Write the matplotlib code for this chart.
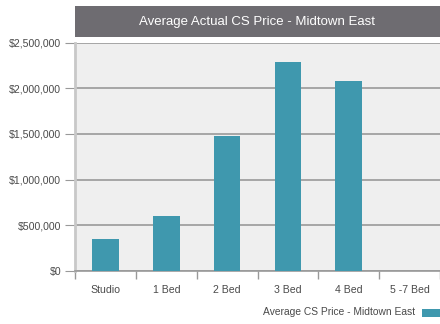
import matplotlib
matplotlib.use("Agg")
import matplotlib.pyplot as plt
from matplotlib.patches import Rectangle
from matplotlib.ticker import FuncFormatter

plt.rcParams['font.family'] = ['Liberation Sans', 'DejaVu Sans']

# Average closing price by unit type
categories = ["Studio", "1 Bed", "2 Bed", "3 Bed", "4 Bed", "5 -7 Bed"]
prices = [350000, 602000, 1477000, 2287000, 2079000, 0]
series_name = "Average CS Price - Midtown East"
title = "Average Actual CS Price - Midtown East"

bar_color = "#3f98ae"
grid_color = "#999999"
text_color = "#4a4a4a"

fig = plt.figure(figsize=(4.4, 3.24), dpi=100)
ax = fig.add_axes([0.1705, 0.1636, 0.8295, 0.7049])
ax.set_facecolor("#efefef")

x = range(len(categories))
ax.bar(x, prices, width=0.44, color=bar_color, zorder=3, label=series_name)

ax.set_xlim(-0.5, len(categories) - 0.5)
ax.set_ylim(0, 2500000)
ax.set_yticks(range(0, 2500001, 500000))
ax.yaxis.set_major_formatter(FuncFormatter(lambda v, p: f"${v:,.0f}"))
ax.set_xticks(list(x))
ax.set_xticklabels(categories)
ax.set_xticks([i - 0.5 for i in range(len(categories) + 1)], minor=True)

ax.grid(axis="y", color=grid_color, linewidth=1.2, zorder=1)
ax.tick_params(axis="y", length=7, color=grid_color, labelsize=7.6, labelcolor=text_color, pad=3)
ax.tick_params(axis="x", which="major", length=0, labelsize=7.6, labelcolor=text_color, pad=10)
ax.tick_params(axis="x", which="minor", length=6, color=grid_color, width=1)

for side in ["top", "right"]:
    ax.spines[side].set_visible(False)
ax.spines["left"].set_color("#c8c8c8")
ax.spines["left"].set_linewidth(2)
ax.spines["bottom"].set_color(grid_color)
ax.spines["bottom"].set_linewidth(1.2)

# title banner above the plot area
fig.patches.append(Rectangle((0.1705, 0.886), 0.8295, 0.095, transform=fig.transFigure,
                             facecolor="#6e6c71", edgecolor="none"))
fig.text(0.585, 0.933, title, color="white", fontsize=9.5, ha="center", va="center")

# legend: label with swatch on the right
fig.text(0.943, 0.037, series_name, color=text_color, fontsize=7.4, ha="right", va="center")
fig.patches.append(Rectangle((0.959, 0.022), 0.041, 0.025, transform=fig.transFigure,
                             facecolor=bar_color, edgecolor="none"))

fig.savefig("out.png", dpi=100)
